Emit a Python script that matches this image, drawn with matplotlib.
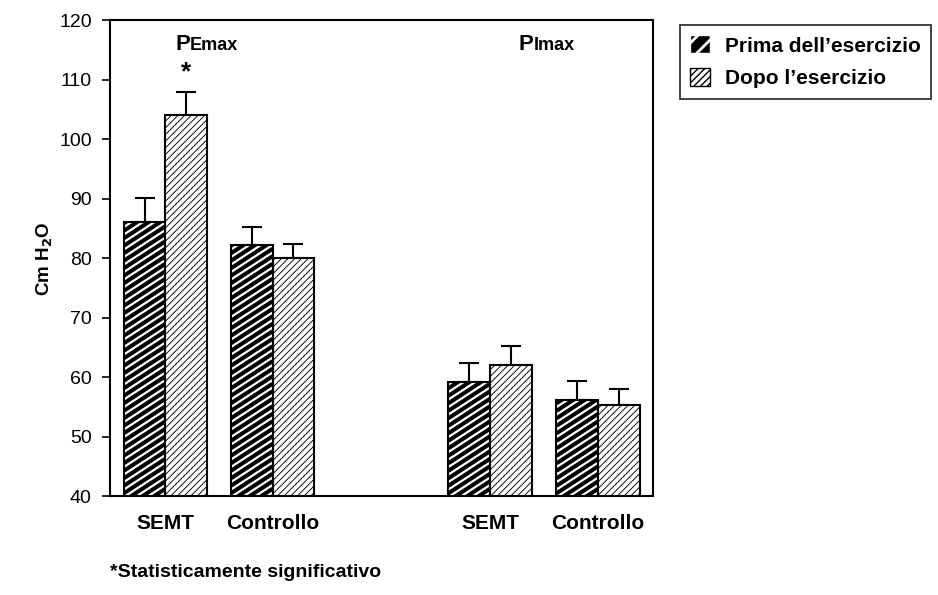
import matplotlib.pyplot as plt
import numpy as np
from matplotlib.patches import Patch, Rectangle

plt.rcParams['font.family'] = ['Liberation Sans', 'DejaVu Sans']

groups = ['SEMT', 'Controllo', 'SEMT', 'Controllo']
positions = np.array([0, 1, 3.03, 4.04])
prima = [86.1, 82.2, 59.2, 56.1]
prima_err = [4.1, 3.1, 3.2, 3.3]
dopo = [104.0, 80.0, 62.0, 55.3]
dopo_err = [4.0, 2.4, 3.2, 2.7]
series_labels = ["Prima dell\u2019esercizio", "Dopo l\u2019esercizio"]

fig = plt.figure(figsize=(9.38, 5.95), dpi=100)
ax = fig.add_axes([0.117, 0.166, 0.579, 0.800])
ax.set_xlim(-0.52, 4.55)
ax.set_ylim(40, 120)
ybot = ax.get_ylim()[0]

w = 0.39
b1 = ax.bar(positions - w / 2, prima, w, facecolor='white', edgecolor='none', zorder=2)
b2 = ax.bar(positions + w / 2, dopo, w, facecolor='white', edgecolor='black',
            hatch='/////', linewidth=1.5, zorder=2)
for r in b2:
    r.set_hatch_linewidth(0.65)

# thick shallow stripes for the "prima" bars, clipped to the visible part of each bar
sx = ax.transData.transform((1, 0))[0] - ax.transData.transform((0, 0))[0]
sy = ax.transData.transform((0, 1))[1] - ax.transData.transform((0, 0))[1]
slope = 0.65 * sx / sy
step = 7.5 / sy
for r in b1:
    x0, bw, top = r.get_x(), r.get_width(), r.get_y() + r.get_height()
    clip = Rectangle((x0, ybot), bw, top - ybot, transform=ax.transData)
    for c in np.arange(ybot - slope * bw, top + step, step):
        ln, = ax.plot([x0, x0 + bw], [c, c + slope * bw], color='black', lw=2.9,
                      solid_capstyle='butt', zorder=3)
        ln.set_clip_path(clip)
ax.bar(positions - w / 2, prima, w, facecolor='none', edgecolor='black',
       linewidth=1.5, zorder=4)

zeros = [0] * len(positions)
ax.errorbar(positions - w / 2, prima, yerr=[zeros, prima_err], fmt='none',
            ecolor='black', elinewidth=1.5, capsize=7, capthick=1.5, zorder=1)
ax.errorbar(positions + w / 2, dopo, yerr=[zeros, dopo_err], fmt='none',
            ecolor='black', elinewidth=1.5, capsize=7, capthick=1.5, zorder=1)

ax.set_yticks(np.arange(40, 121, 10))
ax.tick_params(axis='y', direction='out', length=6, width=1.2, labelsize=14, pad=7)
ax.set_xticks(positions)
ax.set_xticklabels(groups, fontsize=15, fontweight='bold')
ax.tick_params(axis='x', length=0, pad=13)
for s in ax.spines.values():
    s.set_linewidth(1.5)

ax.set_ylabel(r'Cm H$_{\mathbf{2}}$O', fontsize=13.5, fontweight='bold', labelpad=3)

# small-caps style group titles
ax.text(0.148, 0.938, 'P', transform=ax.transAxes, ha='right', va='baseline',
        fontsize=16, fontweight='bold')
ax.text(0.148, 0.938, 'Emax', transform=ax.transAxes, ha='left', va='baseline',
        fontsize=13, fontweight='bold')
ax.text(0.78, 0.938, 'P', transform=ax.transAxes, ha='right', va='baseline',
        fontsize=16, fontweight='bold')
ax.text(0.78, 0.938, 'Imax', transform=ax.transAxes, ha='left', va='baseline',
        fontsize=13, fontweight='bold')

ax.text(positions[0] + w / 2, dopo[0] + dopo_err[0] + 1.3, '*', ha='center',
        va='bottom', fontsize=19, fontweight='bold')

handles = [Patch(facecolor='black', edgecolor='black', hatch='//', linewidth=1.0),
           Patch(facecolor='white', edgecolor='black', hatch='/////', linewidth=1.0)]
handles[1].set_hatch_linewidth(0.7)
leg = fig.legend(handles, series_labels, loc='upper left', bbox_to_anchor=(0.725, 0.958),
                 frameon=True, fancybox=False, edgecolor='black', handlelength=0.95,
                 handleheight=0.95, handletextpad=0.7, borderpad=0.5, labelspacing=0.6,
                 borderaxespad=0, prop={'size': 15, 'weight': 'bold'})
leg.get_frame().set_linewidth(1.3)
# white stripes on the black legend square
leg.legend_handles[0].set_edgecolor('white')
leg.legend_handles[0].set_hatch_linewidth(2.0)

fig.text(0.117, 0.03, '*Statisticamente significativo', fontsize=14, fontweight='bold')

fig.savefig('out.png', dpi=100)
